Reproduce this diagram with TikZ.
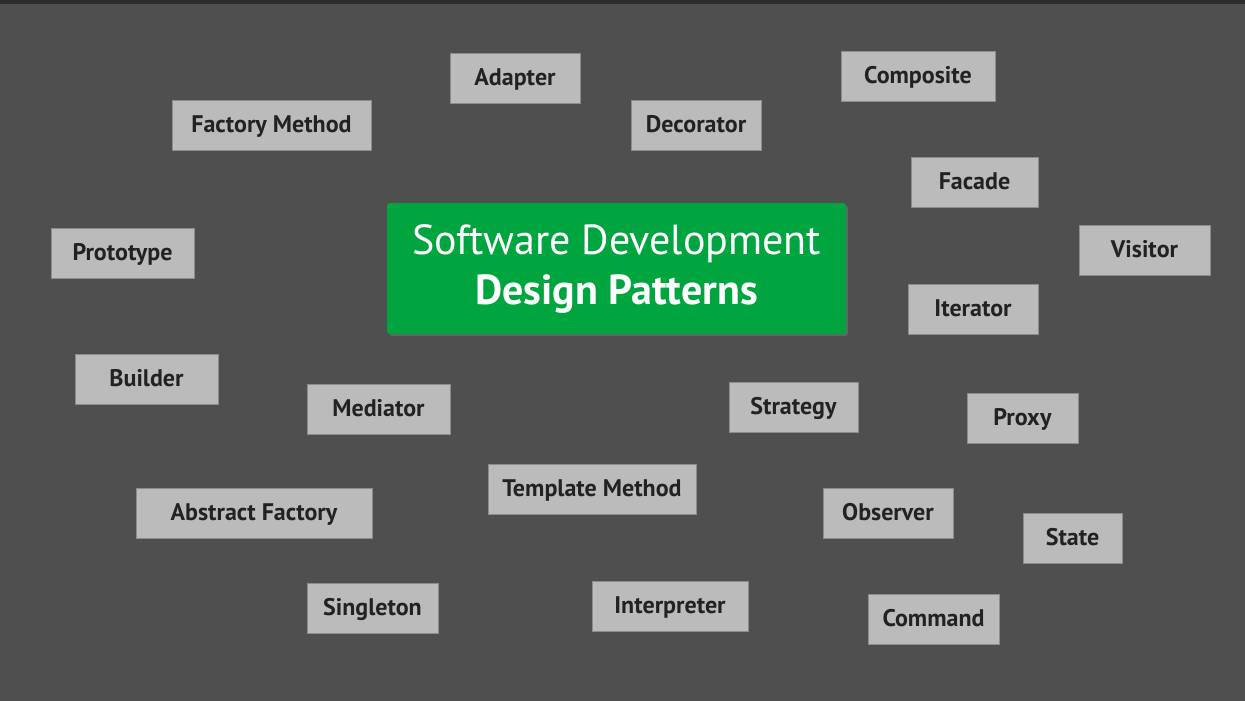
\documentclass[tikz,border=0pt]{standalone}
\usepackage{fontspec}
\setmainfont{PT Sans}
\usepackage{tikz}
\usetikzlibrary{shadows}
\definecolor{canvasgray}{RGB}{79, 79, 79}
\definecolor{stripdark}{RGB}{45, 45, 45}
\definecolor{boxgray}{RGB}{187, 187, 187}
\definecolor{boxedge}{RGB}{140, 140, 140}
\definecolor{labelink}{RGB}{34, 34, 34}
\definecolor{titlegreen}{RGB}{0, 165, 63}

\tikzset{
  patternbox/.style={draw=boxedge, line width=0.8pt, fill=boxgray, text=labelink,
    minimum height=50, inner sep=0pt, text height=18pt, text depth=4pt,
    font=\fontsize{24}{27}\selectfont\bfseries},
  titlebox/.style={fill=titlegreen, rounded corners=3pt, text=white, align=center,
    minimum width=459, minimum height=131, inner sep=0pt,
    font=\fontsize{42}{50}\selectfont,
    drop shadow={shadow xshift=2pt, shadow yshift=-2pt, opacity=0.45}}
}

\begin{document}
\begin{tikzpicture}[x=1pt, y=-1pt]
    % Canvas
    \fill[canvasgray] (0,0) rectangle (1245,701);
    \fill[stripdark] (0,0) rectangle (1245,4);
    \useasboundingbox (0,0) rectangle (1245,701);

    % Title
    \node[titlebox] (title) at (616.5,268.5)
      {Software Development\\ \bfseries Design Patterns};

    % Upper row
    \node[patternbox, minimum width=199] (factorymethod) at (271.5,125) {Factory Method};
    \node[patternbox, minimum width=130] (adapter) at (515,78.5) {Adapter};
    \node[patternbox, minimum width=130] (decorator) at (696,125) {Decorator};
    \node[patternbox, minimum width=154] (composite) at (918,76) {Composite};
    \node[patternbox, minimum width=127] (facade) at (974.5,182) {Facade};
    \node[patternbox, minimum width=131] (visitor) at (1144.5,250) {Visitor};

    % Middle row
    \node[patternbox, minimum width=143] (prototype) at (122.5,253) {Prototype};
    \node[patternbox, minimum width=130] (iterator) at (973,309) {Iterator};
    \node[patternbox, minimum width=143] (builder) at (146.5,379) {Builder};
    \node[patternbox, minimum width=143] (mediator) at (378.5,409) {Mediator};
    \node[patternbox, minimum width=129] (strategy) at (793.5,407) {Strategy};
    \node[patternbox, minimum width=111] (proxy) at (1022.5,418) {Proxy};

    % Lower row
    \node[patternbox, minimum width=208] (templatemethod) at (592,489) {Template Method};
    \node[patternbox, minimum width=236] (abstractfactory) at (254,513) {Abstract Factory};
    \node[patternbox, minimum width=130] (observer) at (888,513) {Observer};
    \node[patternbox, minimum width=99] (state) at (1072.5,538) {State};
    \node[patternbox, minimum width=131] (singleton) at (372.5,608) {Singleton};
    \node[patternbox, minimum width=156] (interpreter) at (670,606) {Interpreter};
    \node[patternbox, minimum width=131] (command) at (933.5,619) {Command};
\end{tikzpicture}
\end{document}
